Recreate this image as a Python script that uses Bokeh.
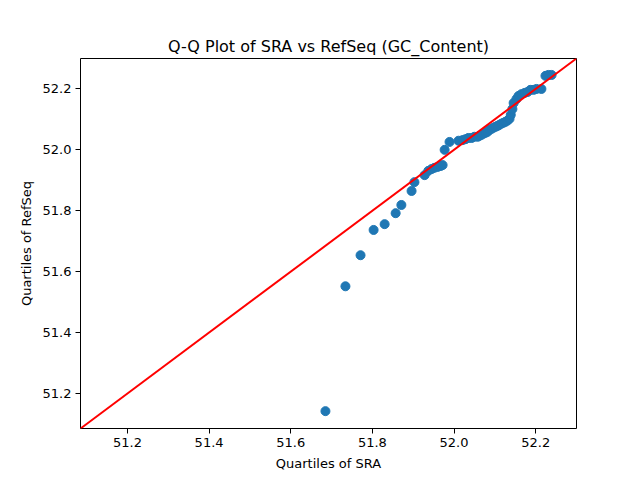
from bokeh.plotting import figure
from bokeh.models import Range1d, FixedTicker, PrintfTickFormatter, Slope
from bokeh.embed import file_html
from bokeh.resources import INLINE

sra_quantiles = [51.685, 51.734, 51.771, 51.803, 51.830, 51.857, 51.871, 51.896, 51.903, 51.928,
                 51.937, 51.945, 51.952, 51.960, 51.967, 51.972, 51.977, 51.989, 52.011, 52.021,
                 52.028, 52.035, 52.043, 52.050, 52.058, 52.062, 52.067, 52.072, 52.077, 52.082,
                 52.087, 52.092, 52.097, 52.102, 52.107, 52.111, 52.116, 52.121, 52.126, 52.131,
                 52.136, 52.139, 52.143, 52.146, 52.153, 52.158, 52.165, 52.173, 52.180, 52.187,
                 52.195, 52.202, 52.214, 52.224, 52.231, 52.239]
refseq_quantiles = [51.142, 51.552, 51.654, 51.737, 51.756, 51.792, 51.819, 51.865, 51.894, 51.917,
                    51.931, 51.937, 51.941, 51.944, 51.947, 51.950, 52.000, 52.026, 52.030, 52.032,
                    52.035, 52.039, 52.039, 52.043, 52.043, 52.046, 52.049, 52.053, 52.056, 52.059,
                    52.066, 52.069, 52.073, 52.076, 52.079, 52.082, 52.086, 52.089, 52.092, 52.096,
                    52.102, 52.115, 52.134, 52.154, 52.167, 52.177, 52.183, 52.187, 52.190, 52.197,
                    52.197, 52.200, 52.200, 52.243, 52.246, 52.246]
tick_values = [51.2, 51.4, 51.6, 51.8, 52.0, 52.2]
axis_limits = (51.085, 52.30)

FONT = "DejaVu Sans"

p = figure(width=640, height=480, output_backend="svg", toolbar_location=None,
           x_range=Range1d(*axis_limits), y_range=Range1d(*axis_limits),
           title="Q-Q Plot of SRA vs RefSeq (GC_Content)",
           min_border_left=80, min_border_right=64, min_border_top=58, min_border_bottom=53)
p.frame_width = 496
p.frame_height = 370
p.title.align = "center"
p.title.text_font = FONT
p.title.text_font_size = "16px"
p.title.text_font_style = "normal"
p.title.text_color = "black"
p.title.standoff = 6

p.xgrid.visible = False
p.ygrid.visible = False
p.outline_line_color = "black"
p.outline_line_width = 1
p.background_fill_color = "white"
p.border_fill_color = "white"

for ax, lab in ((p.xaxis[0], "Quartiles of SRA"), (p.yaxis[0], "Quartiles of RefSeq")):
    ax.ticker = FixedTicker(ticks=tick_values)
    ax.formatter = PrintfTickFormatter(format="%.1f")
    ax.axis_label = lab
    ax.axis_label_text_font = FONT
    ax.axis_label_text_font_size = "13px"
    ax.axis_label_text_font_style = "normal"
    ax.axis_label_text_color = "black"
    ax.major_label_text_font = FONT
    ax.major_label_text_font_size = "13px"
    ax.major_label_text_color = "black"
    ax.major_tick_line_color = "black"
    ax.major_tick_out = 5
    ax.major_tick_in = 0
    ax.minor_tick_out = 0
    ax.minor_tick_in = 0
    ax.axis_line_color = None
    ax.major_label_standoff = 4
    ax.axis_label_standoff = 6

p.scatter(sra_quantiles, refseq_quantiles, size=9, color="#1f77b4", line_color="#1f77b4")
p.add_layout(Slope(gradient=1, y_intercept=0, line_color="red", line_width=2))

open("out.html", "w").write(file_html(p, INLINE))
